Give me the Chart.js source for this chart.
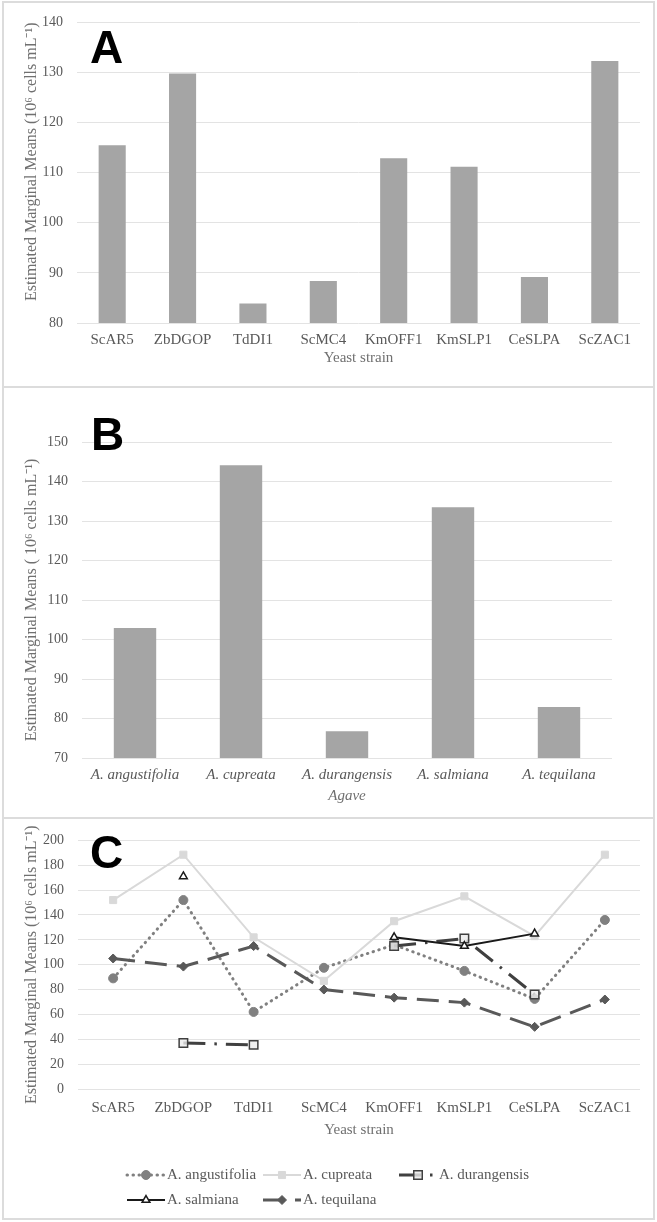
<!DOCTYPE html>
<html>
<head>
<meta charset="utf-8">
<script src="https://cdn.jsdelivr.net/npm/chart.js@4.4.0/dist/chart.umd.min.js"></script>
<style>
    html, body { margin: 0; padding: 0; background: #fff; }
    body { width: 657px; height: 1222px; position: relative; overflow: hidden; }
    .panel { position: absolute; left: 0; width: 657px; }
    .frame { position: absolute; left: 2px; width: 653px; border: 2px solid #dcdcdc; box-sizing: border-box; pointer-events: none; }
</style>
</head>
<body>
<div class="panel" style="top:0;height:387px"><canvas id="chartA"></canvas></div>
<div class="panel" style="top:387px;height:431px"><canvas id="chartB"></canvas></div>
<div class="panel" style="top:818px;height:404px"><canvas id="chartC"></canvas></div>
<div class="frame" style="top:1px;height:387px"></div>
<div class="frame" style="top:386px;height:433px"></div>
<div class="frame" style="top:817px;height:403px"></div>
<script>
// Panel A: yeast strain means
const strains = ['ScAR5', 'ZbDGOP', 'TdDI1', 'ScMC4', 'KmOFF1', 'KmSLP1', 'CeSLPA', 'ScZAC1'];
const strainMeans = [115.5, 129.8, 83.9, 88.4, 112.9, 111.2, 89.2, 132.3];

// Panel B: agave means
const agaves = ['A. angustifolia', 'A. cupreata', 'A. durangensis', 'A. salmiana', 'A. tequilana'];
const agaveMeans = [102.9, 144.1, 76.8, 133.5, 82.9];

// Panel C: strain x agave interaction
const angustifolia = [89, 152, 62, 97.5, 116, 95, 72.5, 136];
const cupreata = [152, 188.5, 122, 87, 135, 155, 123, 188.5];
const durangensis = [null, 37, 35.5, null, 115, 121, 76, null];
const salmiana = [null, 171, null, null, 122, 115, 125, null];
const tequilana = [105, 98.5, 115, 80, 73.5, 69.5, 50, 72];

const yTitleA = 'Estimated Marginal Means (10\u2076 cells mL\u207B\u00B9)';
const yTitleB = 'Estimated Marginal Means ( 10\u2076 cells mL\u207B\u00B9)';

Chart.defaults.font.family = "'Liberation Serif', 'Times New Roman', serif";
Chart.defaults.color = '#595959';

const gridColor = '#e3e3e3';
const tickColor = '#595959';
const titleColor = '#707070';

const panelLetter = {
    id: 'panelLetter',
    afterDraw(chart, args, opts) {
        const ctx = chart.ctx;
        ctx.save();
        ctx.font = 'bold 46px "Liberation Sans", Arial, sans-serif';
        ctx.fillStyle = '#000';
        ctx.textBaseline = 'alphabetic';
        ctx.fillText(opts.text, opts.x, opts.y);
        ctx.restore();
    }
};

function fixWidth(w) { return scale => { scale.width = w; }; }
function fixHeight(h) { return scale => { scale.height = h; }; }

function yAxis(min, max, step, width, title, align) {
    return {
        min: min, max: max,
        ticks: { stepSize: step, padding: 14, color: tickColor, font: { size: 14 } },
        grid: { color: gridColor, drawTicks: false },
        border: { display: false },
        title: { display: true, text: title, color: titleColor, align: align,
                 font: { size: 16 }, padding: { top: 12, bottom: 0 } },
        afterFit: fixWidth(width)
    };
}

function xAxis(title, height, pad, italic) {
    const style = italic ? 'italic' : 'normal';
    return {
        offset: true,
        grid: { display: false, drawTicks: false },
        border: { display: false },
        ticks: { padding: pad, color: tickColor, maxRotation: 0, autoSkip: false,
                 font: { size: 15, style: style } },
        title: { display: true, text: title, color: titleColor,
                 font: { size: 15, style: style }, padding: { top: 0, bottom: 0 } },
        afterFit: fixHeight(height)
    };
}

function barChart(id, labels, values, cfg) {
    return new Chart(document.getElementById(id), {
        type: 'bar',
        data: {
            labels: labels,
            datasets: [{
                data: values,
                backgroundColor: '#a5a5a5',
                borderWidth: 0,
                categoryPercentage: 1,
                barPercentage: cfg.barPct
            }]
        },
        options: {
            responsive: true,
            maintainAspectRatio: false,
            animation: false,
            events: [],
            layout: { padding: cfg.padding },
            plugins: {
                legend: { display: false },
                tooltip: { enabled: false },
                panelLetter: cfg.letter
            },
            scales: { x: cfg.x, y: cfg.y }
        },
        plugins: [panelLetter]
    });
}

barChart('chartA', strains, strainMeans, {
    barPct: 0.385,
    padding: { left: 10, right: 17, top: 17, bottom: 20 },
    letter: { text: 'A', x: 90, y: 63 },
    x: xAxis('Yeast strain', 44, 8, false),
    y: yAxis(80, 140, 10, 67, yTitleA, 'end')
});

barChart('chartB', agaves, agaveMeans, {
    barPct: 0.40,
    padding: { left: 10, right: 45, top: 55, bottom: 13 },
    letter: { text: 'B', x: 91, y: 63 },
    x: xAxis('Agave', 47, 8, true),
    y: yAxis(70, 150, 10, 72, yTitleB, 'center')
});

// line + marker samples for the interaction legend
function drawMarker(ctx, style, x, y, r, fill, stroke, bw) {
    ctx.beginPath();
    if (style === 'circle') {
        ctx.arc(x, y, r, 0, Math.PI * 2);
    } else if (style === 'rect') {
        const s = r * Math.SQRT1_2;
        ctx.rect(x - s, y - s, 2 * s, 2 * s);
    } else if (style === 'rectRot') {
        ctx.moveTo(x - r, y); ctx.lineTo(x, y - r); ctx.lineTo(x + r, y); ctx.lineTo(x, y + r);
        ctx.closePath();
    } else if (style === 'triangle') {
        for (let k = 0; k < 3; k++) {
            const a = k * 2 * Math.PI / 3;
            const px = x + Math.sin(a) * r, py = y - Math.cos(a) * r;
            if (k === 0) ctx.moveTo(px, py); else ctx.lineTo(px, py);
        }
        ctx.closePath();
    }
    ctx.fillStyle = fill;
    ctx.fill();
    ctx.lineWidth = bw;
    ctx.strokeStyle = stroke;
    ctx.stroke();
}

const lineLegend = {
    id: 'lineLegend',
    afterDraw(chart, args, opts) {
        const ctx = chart.ctx;
        chart.data.datasets.forEach((ds, i) => {
            const col = i % 3, row = Math.floor(i / 3);
            const x0 = opts.cols[col], y = opts.rows[row];
            ctx.save();
            ctx.strokeStyle = ds.borderColor;
            ctx.lineWidth = ds.borderWidth;
            ctx.lineCap = ds.borderCapStyle || 'butt';
            ctx.setLineDash(ds.borderDash || []);
            ctx.beginPath();
            ctx.moveTo(x0, y);
            ctx.lineTo(x0 + 38, y);
            ctx.stroke();
            ctx.setLineDash([]);
            drawMarker(ctx, ds.pointStyle, x0 + 19, y, ds.pointRadius,
                       ds.pointBackgroundColor, ds.pointBorderColor, ds.pointBorderWidth);
            ctx.fillStyle = tickColor;
            ctx.font = '15px "Liberation Serif", serif';
            ctx.textBaseline = 'middle';
            ctx.fillText(ds.label, x0 + 40, y);
            ctx.restore();
        });
    }
};

new Chart(document.getElementById('chartC'), {
    type: 'line',
    data: {
        labels: strains,
        datasets: [
            { label: 'A. angustifolia', data: angustifolia, order: 4,
              borderColor: '#808080', borderWidth: 3, borderDash: [0.5, 5.5], borderCapStyle: 'round',
              pointStyle: 'circle', pointRadius: 4.5, pointBackgroundColor: '#808080',
              pointBorderColor: '#808080', pointBorderWidth: 1 },
            { label: 'A. cupreata', data: cupreata, order: 3,
              borderColor: '#d9d9d9', borderWidth: 2,
              pointStyle: 'rect', pointRadius: 5, pointBackgroundColor: '#d9d9d9',
              pointBorderColor: '#d9d9d9', pointBorderWidth: 1 },
            { label: 'A. durangensis', data: durangensis, order: 2,
              borderColor: '#404040', borderWidth: 3, borderDash: [22, 9, 2.5, 9],
              pointStyle: 'rect', pointRadius: 6, pointBackgroundColor: 'rgba(235,235,235,0.8)',
              pointBorderColor: '#404040', pointBorderWidth: 1.5 },
            { label: 'A. salmiana', data: salmiana, order: 1,
              borderColor: '#1a1a1a', borderWidth: 2,
              pointStyle: 'triangle', pointRadius: 4.5, pointBackgroundColor: '#ffffff',
              pointBorderColor: '#1a1a1a', pointBorderWidth: 1.5 },
            { label: 'A. tequilana', data: tequilana, order: 0,
              borderColor: '#595959', borderWidth: 3, borderDash: [22, 10],
              pointStyle: 'rectRot', pointRadius: 4.5, pointBackgroundColor: '#595959',
              pointBorderColor: '#595959', pointBorderWidth: 1 }
        ]
    },
    options: {
        responsive: true,
        maintainAspectRatio: false,
        animation: false,
        events: [],
        spanGaps: false,
        elements: { line: { tension: 0 } },
        layout: { padding: { left: 10, right: 17, top: 9, bottom: 83 } },
        plugins: {
            legend: { display: false },
            tooltip: { enabled: false },
            panelLetter: { text: 'C', x: 90, y: 50 },
            lineLegend: { cols: [127, 263, 399], rows: [357, 382] }
        },
        scales: {
            x: xAxis('Yeast strain', 50, 10, false),
            y: yAxis(0, 200, 20, 68, yTitleA, 'center')
        }
    },
    plugins: [panelLetter, lineLegend]
});
</script>
</body>
</html>
